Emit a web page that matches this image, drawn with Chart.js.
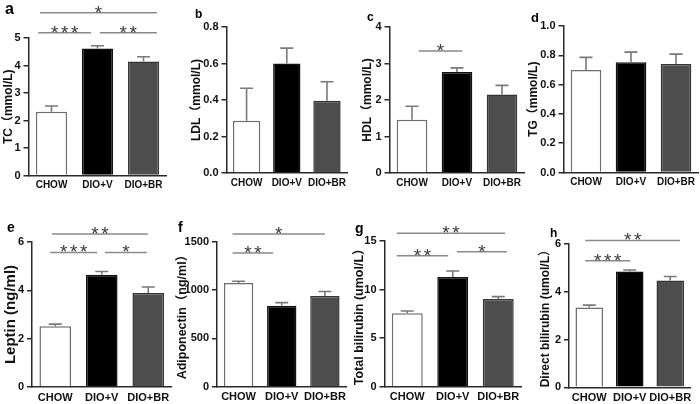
<!DOCTYPE html>
<html><head><meta charset="utf-8">
<script src="https://cdn.jsdelivr.net/npm/chart.js@4"></script>
<style>
html,body{margin:0;padding:0;background:#fff;}
#wrap{position:relative;width:700px;height:404px;overflow:hidden;background:#fff;}
#wrap canvas{position:absolute;}
</style></head><body><div id="wrap"></div>
<script>
// ---------------- DATA ----------------
const groups = ['CHOW', 'DIO+V', 'DIO+BR'];

const tcMean = [2.32, 4.62, 4.15];
const tcErr  = [0.21, 0.10, 0.17];
const tcTicks = ['0', '1', '2', '3', '4', '5'];
const tcSig = [[-0.25, 2.29, 5.92, '*'], [-0.29, 0.86, 5.19, '***'], [1.05, 2.29, 5.19, '**']];

const ldlMean = [0.286, 0.600, 0.396];
const ldlErr  = [0.178, 0.084, 0.104];
const ldlTicks = ['0.0', '0.2', '0.4', '0.6', '0.8'];
const ldlSig = [];

const hdlMean = [1.46, 2.77, 2.15];
const hdlErr  = [0.37, 0.11, 0.25];
const hdlTicks = ['0', '1', '2', '3', '4'];
const hdlSig = [[0.15, 1.12, 3.34, '*']];

const tgMean = [0.700, 0.752, 0.740];
const tgErr  = [0.086, 0.070, 0.068];
const tgTicks = ['0.0', '0.2', '0.4', '0.6', '0.8', '1.0'];
const tgSig = [];

const leptinMean = [2.51, 4.65, 3.89];
const leptinErr  = [0.09, 0.13, 0.25];
const leptinTicks = ['0', '2', '4', '6'];
const leptinSig = [[-0.07, 1.99, 6.33, '**'], [-0.11, 0.90, 5.57, '***'], [1.07, 1.97, 5.57, '*']];

const adipoMean = [1070, 835, 938];
const adipoErr  = [20, 34, 45];
const adipoTicks = ['0', '500', '1000', '1500'];
const adipoSig = [[-0.14, 2.0, 1577, '*'], [-0.14, 0.80, 1380, '**']];

const tbilMean = [7.56, 11.29, 9.03];
const tbilErr  = [0.23, 0.62, 0.24];
const tbilTicks = ['0', '5', '10', '15'];
const tbilSig = [[-0.23, 2.15, 15.79, '**'], [-0.23, 0.90, 13.49, '**'], [1.09, 2.19, 13.9, '*']];

const dbilMean = [3.34, 4.85, 4.47];
const dbilErr  = [0.10, 0.06, 0.17];
const dbilTicks = ['0', '2', '4', '6'];
const dbilSig = [[-0.10, 2.24, 6.15, '**'], [-0.10, 1.01, 5.30, '***']];

// ---------------- LAYOUT / STYLE ----------------
const FONT = '"Liberation Sans", Arial, "Noto Sans CJK SC", sans-serif';
const panels = [
  {letter:'a', lx:5, ly:14, lsize:16, title:'TC（mmol/L)', tsize:12, tcx:9,
   mean:tcMean, err:tcErr, ticks:tcTicks, sig:tcSig,
   box:[0,0,175,200], axisX:28.5, top:38, bottom:175.5, right:166.5, xsize:10},
  {letter:'b', lx:20, ly:17.5, lsize:12, title:'LDL（mmol/L)', tsize:12, tcx:22,
   mean:ldlMean, err:ldlErr, ticks:ldlTicks, sig:ldlSig,
   box:[175,0,175,200], axisX:226.5, top:27, bottom:173, right:360, xsize:10},
  {letter:'c', lx:17, ly:21, lsize:12, title:'HDL（mmol/L)', tsize:12, tcx:18,
   mean:hdlMean, err:hdlErr, ticks:hdlTicks, sig:hdlSig,
   box:[350,0,175,200], axisX:389.5, top:27, bottom:173, right:526, xsize:10},
  {letter:'d', lx:6, ly:22, lsize:13, title:'TG（mmol/L)', tsize:12, tcx:8.5,
   mean:tgMean, err:tgErr, ticks:tgTicks, sig:tgSig,
   box:[525,0,175,200], axisX:563.5, top:26, bottom:172.5, right:698.5, xsize:10},
  {letter:'e', lx:7, ly:232, lsize:14, title:'Leptin (ng/ml)', tsize:15, tcx:10.5,
   mean:leptinMean, err:leptinErr, ticks:leptinTicks, sig:leptinSig,
   box:[0,200,175,204], axisX:32, top:242, bottom:387, right:171.5, xsize:11},
  {letter:'f', lx:3, ly:232, lsize:14, title:'Adiponectin（ng/ml）', tsize:12.5, tcx:8,
   mean:adipoMean, err:adipoErr, ticks:adipoTicks, sig:adipoSig,
   box:[175,200,175,204], axisX:217, top:241.5, bottom:386.7, right:349, xsize:11},
  {letter:'g', lx:5, ly:233, lsize:14, title:'Total bilirubin (umol/L）', tsize:12.5, tcx:10,
   mean:tbilMean, err:tbilErr, ticks:tbilTicks, sig:tbilSig,
   box:[350,200,175,204], axisX:384.5, top:241, bottom:386.7, right:521, xsize:11},
  {letter:'h', lx:25, ly:237, lsize:12, title:'Direct bilirubin (umol/L）', tsize:12, tcx:21,
   mean:dbilMean, err:dbilErr, ticks:dbilTicks, sig:dbilSig,
   box:[525,200,175,204], axisX:569, top:244, bottom:387.3, right:690.5, xsize:11},
];

const overlay = {
  id: 'overlay',
  afterDatasetsDraw(chart) {
    const p = chart.options.plugins.overlay;
    const {ctx} = chart;
    const x = chart.scales.x, y = chart.scales.y;
    const meta = chart.getDatasetMeta(0);
    ctx.save();
    // error bars (upper only)
    ctx.strokeStyle = '#7a7a7a';
    ctx.lineWidth = 1.6;
    p.err.forEach((e, i) => {
      const cx = meta.data[i].x;
      const y0 = y.getPixelForValue(p.mean[i]);
      const y1 = y.getPixelForValue(p.mean[i] + e);
      ctx.beginPath();
      ctx.moveTo(cx, y0); ctx.lineTo(cx, y1);
      ctx.moveTo(cx - 6.5, y1); ctx.lineTo(cx + 6.5, y1);
      ctx.stroke();
    });
    // significance lines
    const x0 = x.getPixelForValue(0);
    const cw = x.getPixelForValue(1) - x0;
    p.sig.forEach(([a, b, lev, lab]) => {
      const xa = x0 + a * cw, xb = x0 + b * cw;
      const ly = y.getPixelForValue(lev);
      ctx.strokeStyle = '#8a8a8a';
      ctx.lineWidth = 1.5;
      ctx.beginPath(); ctx.moveTo(xa, ly); ctx.lineTo(xb, ly); ctx.stroke();
      ctx.fillStyle = '#3a3a3a';
      ctx.font = '19px ' + FONT;
      ctx.textAlign = 'center';
      ctx.textBaseline = 'alphabetic';
      const n = lab.length, sp = 10;
      const mid = (xa + xb) / 2;
      for (let k = 0; k < n; k++) {
        ctx.fillText('*', mid + (k - (n - 1) / 2) * sp, ly + 6);
      }
    });
    ctx.restore();
  },
  afterDraw(chart) {
    const p = chart.options.plugins.overlay;
    const {ctx} = chart;
    ctx.save();
    ctx.fillStyle = '#000';
    ctx.font = 'bold ' + p.lsize + 'px ' + FONT;
    ctx.textAlign = 'left';
    ctx.textBaseline = 'alphabetic';
    ctx.fillText(p.letter, p.lx, p.ly);
    ctx.restore();
  }
};

const wrap = document.getElementById('wrap');
panels.forEach(pn => {
  const [L, T, W, H] = pn.box;
  const cv = document.createElement('canvas');
  cv.width = W; cv.height = H;
  cv.style.left = L + 'px'; cv.style.top = T + 'px';
  cv.style.width = W + 'px'; cv.style.height = H + 'px';
  wrap.appendChild(cv);
  const tickVals = pn.ticks.map(Number);
  const yW = pn.axisX - L;
  const xH = (T + H) - pn.bottom;
  const lineH = pn.tsize * 1.2;
  new Chart(cv, {
    type: 'bar',
    data: {
      labels: groups,
      datasets: [{
        data: pn.mean,
        backgroundColor: ['#ffffff', '#000000', '#4d4d4d'],
        borderColor: ['#6e6e6e', '#111111', '#353535'],
        borderWidth: 1.5,
        barPercentage: 0.68,
        categoryPercentage: 1.0
      }]
    },
    options: {
      responsive: false,
      animation: false,
      devicePixelRatio: 1,
      layout: {padding: {left: 0, top: pn.top - T, right: (L + W) - pn.right, bottom: 0}},
      plugins: {
        legend: {display: false},
        tooltip: {enabled: false},
        overlay: {mean: pn.mean, err: pn.err, sig: pn.sig, letter: pn.letter,
                  lx: pn.lx, ly: pn.ly - T, lsize: pn.lsize}
      },
      scales: {
        x: {
          offset: true,
          grid: {display: false, drawTicks: false},
          border: {display: true, color: '#2a2a2a', width: 1.5},
          ticks: {color: '#111', padding: 4, autoSkip: false, maxRotation: 0,
                  font: {family: FONT, size: pn.xsize, weight: 'bold'}},
          afterFit: s => { s.height = xH; }
        },
        y: {
          min: tickVals[0], max: tickVals[tickVals.length - 1],
          afterBuildTicks: s => { s.ticks = tickVals.map(v => ({value: v})); },
          grid: {drawOnChartArea: false, drawTicks: true, tickLength: 5, color: '#2a2a2a', lineWidth: 1.5},
          border: {display: true, color: '#2a2a2a', width: 1.5},
          ticks: {color: '#111', padding: 3,
                  font: {family: FONT, size: 11, weight: 'bold'},
                  callback: (v, i) => pn.ticks[i]},
          title: {display: true, text: pn.title, color: '#111',
                  font: {family: FONT, size: pn.tsize, weight: 'bold'},
                  padding: {top: pn.tcx - lineH / 2, bottom: 0}},
          afterFit: s => { s.width = yW; }
        }
      }
    },
    plugins: [overlay]
  });
});
</script>
</body></html>
